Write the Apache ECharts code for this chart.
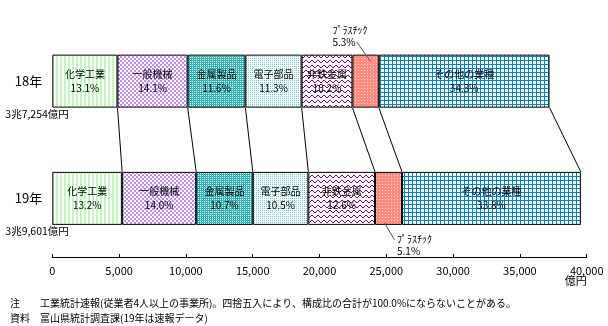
<!DOCTYPE html>
<html><head><meta charset="utf-8">
<script src="https://cdn.jsdelivr.net/npm/echarts@6/dist/echarts.min.js"></script>
<style>html,body{margin:0;padding:0;background:#fff}#c{width:608px;height:326px}</style>
</head><body><div id="c"></div>
<script>
// ---- data ----
const years = ['18年', '19年'];
const totalLabels = ['3兆7,254億円', '3兆9,601億円'];
const industries = ['化学工業', '一般機械', '金属製品', '電子部品', '非鉄金属', 'ﾌﾟﾗｽﾁｯｸ', 'その他の業種'];
const values18 = [4880, 5253, 4321, 4210, 3800, 1974, 12778];   // 億円
const values19 = [5227, 5544, 4237, 4158, 4990, 2020, 13385];   // 億円
const pct18 = ['13.1%', '14.1%', '11.6%', '11.3%', '10.2%', '5.3%', '34.3%'];
const pct19 = ['13.2%', '14.0%', '10.7%', '10.5%', '12.6%', '5.1%', '33.8%'];
const xTicks = [0, 5000, 10000, 15000, 20000, 25000, 30000, 35000, 40000];
const notes = ['注　　工業統計速報(従業者4人以上の事業所)。四捨五入により、構成比の合計が100.0%にならないことがある。',
               '資料　富山県統計調査課(19年は速報データ)'];

// ---- patterns ----
function tile(w, h, bg, draw) {
  const c = document.createElement('canvas'); c.width = w; c.height = h;
  const g = c.getContext('2d'); g.fillStyle = bg; g.fillRect(0, 0, w, h); draw(g);
  return { image: c, repeat: 'repeat' };
}
function px(g, col, pts) { g.fillStyle = col; pts.forEach(p => g.fillRect(p[0], p[1], p[2] || 1, p[3] || 1)); }
const patterns = [
  tile(4, 1, '#ffffff', g => px(g, '#c4f5c0', [[0, 0, 2, 1]])),
  tile(4, 4, '#ffffff', g => px(g, '#c08cf2', [[0, 0, 2, 2], [2, 2, 2, 2]])),
  tile(2, 2, '#ffffff', g => px(g, '#2cb8b8', [[0, 0], [1, 1], [1, 0]])),
  tile(2, 2, '#ffffff', g => px(g, '#6fd0d0', [[0, 0]])),
  tile(6, 5, '#ffffff', g => px(g, '#800080', [[0, 0], [1, 1], [2, 2], [3, 2], [4, 1], [5, 0]])),
  tile(3, 3, '#ff8a80', g => px(g, '#ffd8d4', [[1, 1]])),
  tile(4, 4, '#ffffff', g => px(g, '#0085c8', [[0, 0, 4, 1], [0, 0, 1, 4]]))
];

const BAR_W = 53;
const FONT = '"Noto Sans CJK JP", sans-serif';

// cumulative boundaries
const cum18 = [], cum19 = [];
values18.reduce((a, v) => { cum18.push(a + v); return a + v; }, 0);
values19.reduce((a, v) => { cum19.push(a + v); return a + v; }, 0);

const series = industries.map((name, i) => {
  const s = {
    type: 'bar', name, stack: 'all', barWidth: BAR_W, z: 3,
    itemStyle: { color: patterns[i], borderColor: '#000', borderWidth: 1 },
    label: {
      show: true, position: 'inside', color: '#000', fontSize: 10, lineHeight: 14, fontFamily: FONT,
      formatter: p => name + '\n' + (p.dataIndex === 0 ? pct18[i] : pct19[i])
    },
    data: [values18[i], values19[i]]
  };
  if (i === 5) {
    s.data = [
      { value: values18[i],
        label: { position: [-20, -31], align: 'left', verticalAlign: 'top', lineHeight: 12.5 } },
      { value: values19[i],
        label: { position: [22, 61], align: 'left', verticalAlign: 'top', lineHeight: 12.5 } }
    ];
  }
  return s;
});

// connector lines between the two bars
series.push({
  type: 'custom', z: 2, silent: true,
  encode: { x: [0, 1], y: 2 },
  data: cum18.map((c, i) => [c, cum19[i], 0]),
  renderItem: (params, api) => {
    const p1 = api.coord([api.value(0), 0]);
    const p2 = api.coord([api.value(1), 1]);
    const h = BAR_W / 2;
    return { type: 'line', shape: { x1: p1[0], y1: p1[1] + h, x2: p2[0], y2: p2[1] - h },
             style: { stroke: '#000', lineWidth: 1 } };
  }
});

// plastic leader lines
const plasticMid = [cum18[4] + values18[5] / 2, cum19[4] + values19[5] / 2];
series.push({
  type: 'custom', z: 5, silent: true,
  encode: { x: 0, y: 1 },
  data: [[plasticMid[0], 0], [plasticMid[1], 1]],
  renderItem: (params, api) => {
    const p = api.coord([api.value(0), api.value(1)]);
    const h = BAR_W / 2;
    const shape = params.dataIndex === 0
      ? { x1: p[0] - 9, y1: p[1] - h - 13, x2: p[0] + 5, y2: p[1] - h + 7 }
      : { x1: p[0] - 4, y1: p[1] + h - 2, x2: p[0] + 6, y2: p[1] + h + 15 };
    return { type: 'line', shape, style: { stroke: '#555', lineWidth: 1, fill: null } };
  }
});

// total labels under each bar
series.push({
  type: 'custom', z: 5, silent: true,
  encode: { x: 0, y: 1 },
  data: [[0, 0], [0, 1]],
  renderItem: (params, api) => {
    const p = api.coord([api.value(0), api.value(1)]);
    return { type: 'text', x: p[0] - 47, y: p[1] + BAR_W / 2 + 6,
             style: { text: totalLabels[params.dataIndex], fill: '#000', font: '10.5px ' + FONT,
                      verticalAlign: 'middle', align: 'left' } };
  }
});

const chart = echarts.init(document.getElementById('c'), null, { renderer: 'canvas' });
chart.setOption({
  animation: false,
  backgroundColor: '#fff',
  textStyle: { fontFamily: FONT },
  title: {
    text: notes.join('\n'), left: 5, top: 291,
    textStyle: { fontSize: 10, fontWeight: 'normal', color: '#000', lineHeight: 15, fontFamily: FONT }
  },
  grid: { left: 52.3, right: 21.3, top: 22.5, bottom: 69, containLabel: false, outerBoundsMode: 'none' },
  xAxis: {
    type: 'value', min: xTicks[0], max: xTicks[xTicks.length - 1], interval: xTicks[1] - xTicks[0],
    splitLine: { show: false },
    axisLine: { show: true, lineStyle: { color: '#000', width: 1 } },
    axisTick: { show: true, inside: true, length: 3, lineStyle: { color: '#000' } },
    axisLabel: { color: '#000', fontSize: 11, margin: 8, formatter: v => v.toLocaleString('en-US') },
    name: '億円', nameLocation: 'end', nameGap: 0, nameMoveOverlap: false,
    nameTextStyle: { color: '#000', fontSize: 11, align: 'right', verticalAlign: 'top', padding: [18, 0, 0, 0] }
  },
  yAxis: {
    type: 'category', data: years, inverse: true,
    axisLine: { show: false }, axisTick: { show: false },
    axisLabel: { color: '#000', fontSize: 13, margin: 10 }
  },
  series
});
</script></body></html>
